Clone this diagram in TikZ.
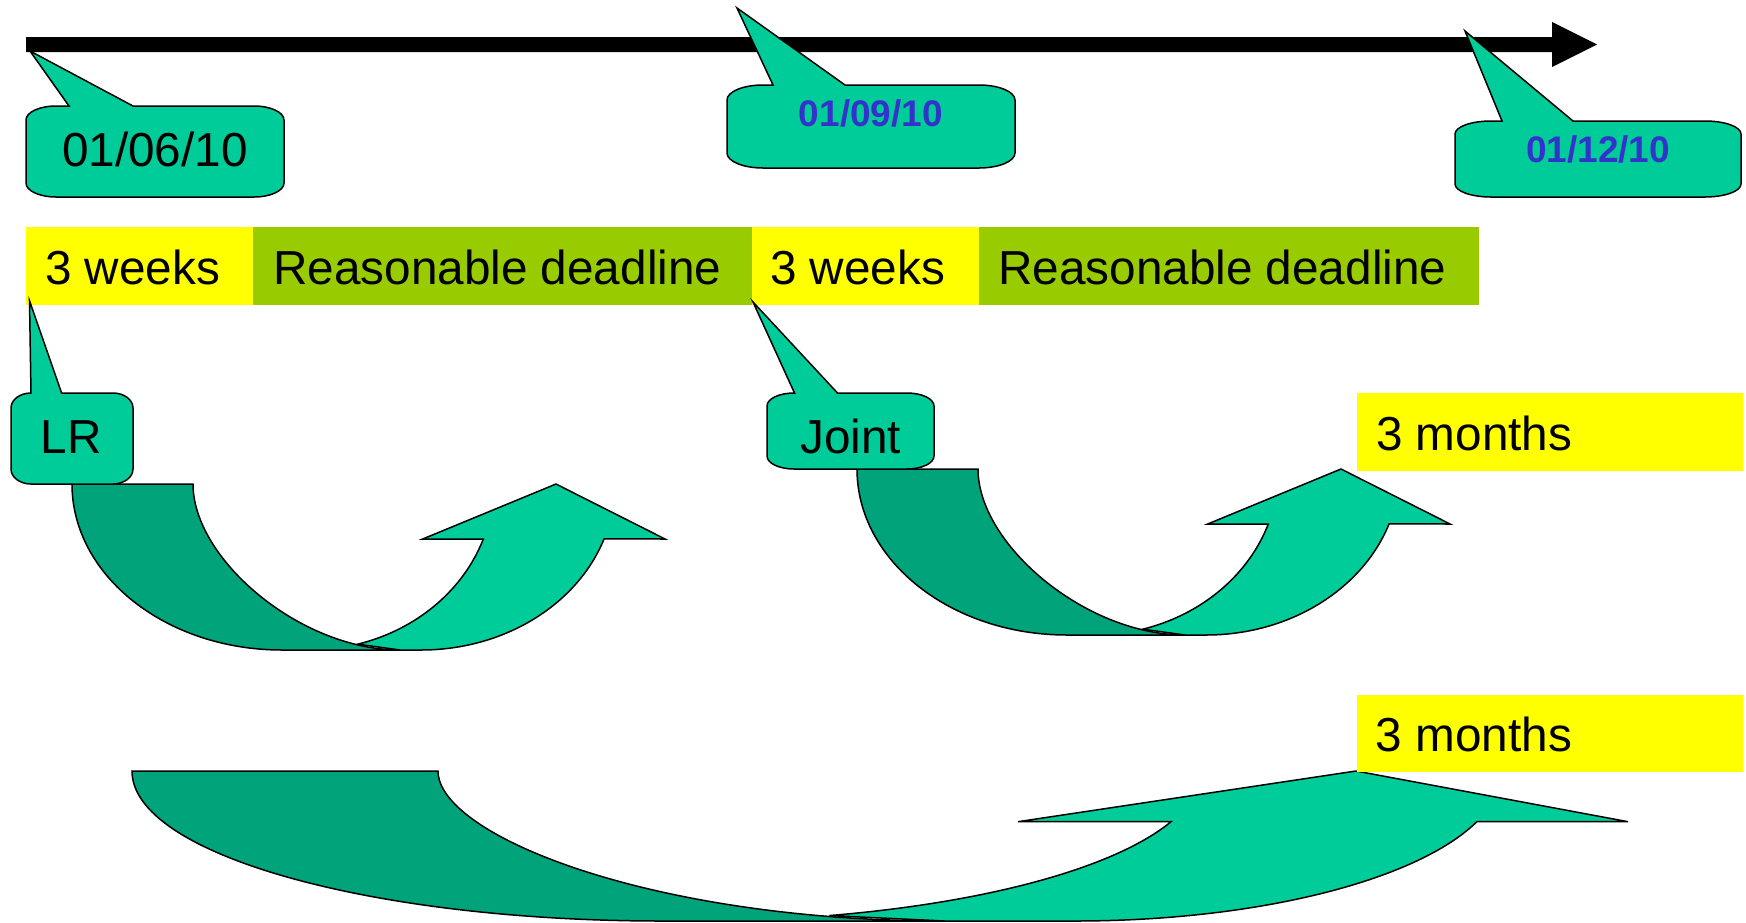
\documentclass[tikz,border=0pt]{standalone}
\usepackage{fontspec}
\setmainfont{Liberation Sans}
\definecolor{tealA}{HTML}{00CC99}
\definecolor{tealB}{HTML}{00A37A}
\definecolor{yelA}{HTML}{FFFF00}
\definecolor{limeA}{HTML}{99CC00}
\definecolor{blueA}{HTML}{3333CC}
\tikzset{
  outline/.style={draw=black, line width=1.5pt, line join=miter},
  lightpart/.style={outline, fill=tealA},
  darkpart/.style={outline, fill=tealB},
  bigtxt/.style={inner sep=0pt, font=\fontsize{47.7}{56}\selectfont},
  datetxt/.style={inner sep=0pt, font=\fontsize{37}{44}\selectfont\bfseries, text=blueA},
}
% callout: x1 y1 x2 y2 rx baseleft baseright (tip) ry
\newcommand\calloutshape[9]{%
  \draw[lightpart] (#1+#5,#2) -- (#6,#2) -- #8 -- (#7,#2) -- (#3-#5,#2)
    arc[start angle=270,end angle=360,x radius=#5,y radius=#9] -- (#3,#4-#9)
    arc[start angle=0,end angle=90,x radius=#5,y radius=#9] -- (#1+#5,#4)
    arc[start angle=90,end angle=180,x radius=#5,y radius=#9] -- (#1,#2+#9)
    arc[start angle=180,end angle=270,x radius=#5,y radius=#9] -- cycle;}
% small curved up arrow (drawn in the frame of the first one)
\newcommand\smallcurvedarrow{%
  \draw[darkpart] (72,484) -- (193,484) .. controls (193,559) and (300,650) .. (400,650)
    -- (282,650) arc[start angle=90,end angle=180,x radius=210,y radius=166] -- cycle;
  \draw[lightpart] (421,650) arc[start angle=90,end angle=19.3,x radius=194,y radius=166]
    -- (665,539) -- (556,484) -- (422.7,539) -- (483.3,539)
    arc[start angle=19.3,end angle=74.6,x radius=185,y radius=166] -- (400,650) -- cycle;}
\begin{document}
\begin{tikzpicture}[x=1pt,y=1pt,yscale=-1]
\useasboundingbox (0,0) rectangle (1746,922);

% time line
\fill[black] (26,37) -- (1552,37) -- (1552,22) -- (1597,44.5) -- (1552,67) -- (1552,52) -- (26,52) -- cycle;

% bands
\fill[yelA]  (26,227)  rectangle (253,305);
\fill[limeA] (253,227) rectangle (752,305);
\fill[yelA]  (752,227) rectangle (979,305);
\fill[limeA] (979,227) rectangle (1479,305);
\node[bigtxt, anchor=base west] (w1) at (45,284) {3 weeks};
\node[bigtxt, anchor=base west] (r1) at (273,284) {Reasonable deadline};
\node[bigtxt, anchor=base west] (w2) at (770,284) {3 weeks};
\node[bigtxt, anchor=base west] (r2) at (998,284) {Reasonable deadline};

% date callouts
\calloutshape{26}{106}{284}{197}{30}{69}{133}{(30,51)}{14}
\node[bigtxt, anchor=base] (d1) at (155,166.5) {01/06/10};
\calloutshape{727}{85}{1015}{168}{36}{773}{845}{(737,8)}{15}
\node[datetxt, anchor=base] (d2) at (871,126.7) {01/09/10};
\calloutshape{1455}{121}{1741}{197}{36}{1502}{1573}{(1465,31)}{13}
\node[datetxt, anchor=base] (d3) at (1598,162.3) {01/12/10};

% curved arrows
\smallcurvedarrow
\begin{scope}[shift={(785,-15)}]
  \smallcurvedarrow
\end{scope}
\draw[darkpart] (132,771) -- (438,771) .. controls (438,835) and (650,921) .. (945,921)
  -- (662,921) arc[start angle=90,end angle=180,x radius=530,y radius=150] -- cycle;
\draw[lightpart] (1075,921) arc[start angle=90,end angle=19.75,x radius=427,y radius=150]
  -- (1628,821.7) -- (1356,771) -- (1018,821.7) -- (1171,821.7)
  arc[start angle=19.75,end angle=74.5,x radius=507,y radius=150] -- (945,921) -- cycle;

% LR / Joint callouts
\calloutshape{11}{393}{133}{484}{20}{31}{61.6}{(29.5,300.7)}{15}
\node[bigtxt, anchor=base] (lr) at (71.4,453.3) {LR};
\calloutshape{767}{393}{934}{469}{27}{794.5}{837.5}{(753,302)}{13}
\node[bigtxt, anchor=base] (joint) at (850.7,453.3) {Joint};

% 3 months boxes
\fill[yelA] (1357,393) rectangle (1743,471);
\node[bigtxt, anchor=base west] (m1) at (1376,450) {3 months};
\fill[yelA] (1357,695) rectangle (1743,772);
\node[bigtxt, anchor=base west] (m2) at (1375.5,751.7) {3 months};
\end{tikzpicture}
\end{document}
